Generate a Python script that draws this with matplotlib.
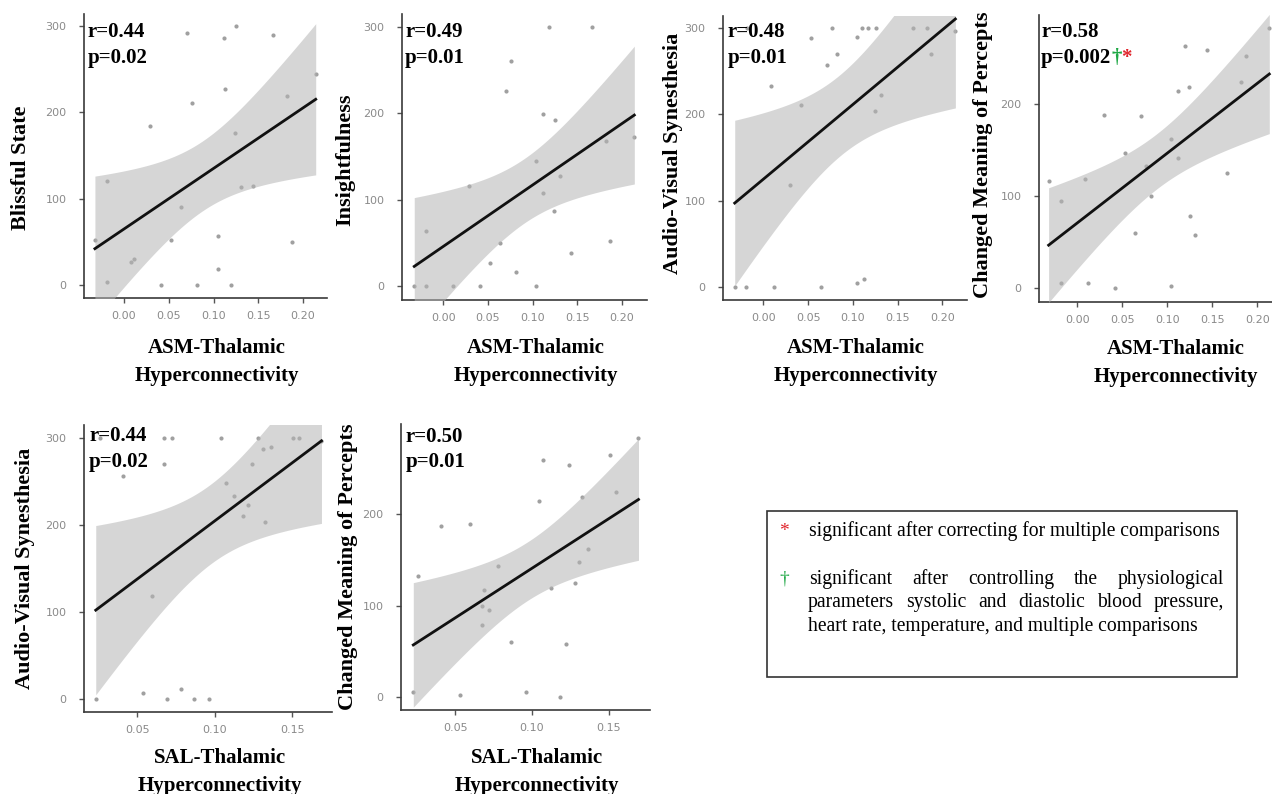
import numpy as np
import matplotlib
matplotlib.use('Agg')
import matplotlib.pyplot as plt
from matplotlib.patches import Rectangle

W, H = 1272, 794

# ---- data (x = connectivity, y = score) ----
asm_x_blissful = [-0.0325, -0.0194, -0.0187, 0.0078, 0.0116, 0.0295, 0.0414, 0.0526, 0.0638,
                  0.0701, 0.0765, 0.0817, 0.1045, 0.1045, 0.1116, 0.1123, 0.1190, 0.1239,
                  0.1254, 0.1310, 0.1436, 0.1668, 0.1820, 0.1873, 0.2142]
blissful = [52, 121, 4, 27, 30, 184, 0, 52, 90, 292, 211, 0, 57, 19, 286, 227, 0, 176,
            300, 114, 115, 289, 219, 50, 244]

asm_x_insight = [-0.0325, -0.0194, -0.0194, 0.0112, 0.0287, 0.0414, 0.0522, 0.0634, 0.0698,
                 0.0757, 0.0810, 0.1040, 0.1040, 0.1112, 0.1119, 0.1186, 0.1235, 0.1246,
                 0.1306, 0.1433, 0.1664, 0.1817, 0.1869, 0.2138]
insight = [0, 64, 0, 0, 116, 0, 27, 50, 226, 260, 17, 145, 0, 108, 199, 300, 87, 192,
           127, 39, 300, 168, 52, 172]

# one point sits under the "r=0.48" text
asm_x_avs = [-0.0321, -0.0190, -0.0187, 0.0082, 0.0119, 0.0298, 0.0418, 0.0530, 0.0642,
             0.0705, 0.0769, 0.0821, 0.1048, 0.1048, 0.1104, 0.1172, 0.1261, 0.1127,
             0.1242, 0.1313, 0.1672, 0.1824, 0.1877, 0.2145]
asm_avs = [0, 0, 300, 233, 0, 118, 211, 288, 0, 257, 300, 270, 290, 5, 300, 300, 300, 10,
           204, 223, 300, 300, 270, 297]

asm_x_cmp = [-0.0319, -0.0185, -0.0178, 0.0085, 0.0122, 0.0296, 0.0419, 0.0533, 0.0641,
             0.0704, 0.0763, 0.0815, 0.1041, 0.1044, 0.1119, 0.1122, 0.1193, 0.1237,
             0.1252, 0.1311, 0.1437, 0.1659, 0.1819, 0.1870, 0.2133]
asm_cmp = [117, 95, 6, 119, 5, 188, 0, 147, 60, 187, 133, 100, 162, 2, 215, 142, 264,
           219, 78, 58, 259, 125, 224, 253, 283]

sal_x_avs = [0.0231, 0.0259, 0.0409, 0.0534, 0.0597, 0.0675, 0.0722, 0.0675, 0.0690, 0.0780,
             0.0864, 0.0963, 0.1043, 0.1073, 0.1125, 0.1183, 0.1218, 0.1244, 0.1278,
             0.1310, 0.1328, 0.1362, 0.1509, 0.1545, 0.1690]
sal_avs = [0, 300, 257, 6, 118, 300, 300, 270, 0, 11, 0, 0, 300, 249, 233, 211, 223, 270,
           300, 288, 204, 290, 300, 300, 297]

sal_x_cmp = [0.0227, 0.0257, 0.0405, 0.0533, 0.0595, 0.0676, 0.0676, 0.0687, 0.0721, 0.0780,
             0.0864, 0.0964, 0.1044, 0.1073, 0.1123, 0.1185, 0.1220, 0.1244, 0.1279,
             0.1309, 0.1329, 0.1363, 0.1511, 0.1546, 0.1694]
sal_cmp = [5, 133, 187, 2, 189, 100, 79, 117, 95, 143, 60, 5, 215, 259, 119, 0, 58, 254,
           125, 148, 219, 162, 265, 224, 284]

y_names = ['Blissful State', 'Insightfulness', 'Audio-Visual Synesthesia',
           'Changed Meaning of Percepts', 'Audio-Visual Synesthesia',
           'Changed Meaning of Percepts']
x_names = ['ASM-Thalamic\nHyperconnectivity'] * 4 + ['SAL-Thalamic\nHyperconnectivity'] * 2
r_text = ['r=0.44', 'r=0.49', 'r=0.48', 'r=0.58', 'r=0.44', 'r=0.50']
p_text = ['p=0.02', 'p=0.01', 'p=0.01', 'p=0.002', 'p=0.02', 'p=0.01']
marks = ['', '', '', 'both', '', '']

xs = [asm_x_blissful, asm_x_insight, asm_x_avs, asm_x_cmp, sal_x_avs, sal_x_cmp]
ys = [blissful, insight, asm_avs, asm_cmp, sal_avs, sal_cmp]

legend_star = 'significant after correcting for multiple comparisons'
legend_dagger = ['significant after controlling the physiological',
                 'parameters systolic and diastolic blood pressure,',
                 'heart rate, temperature, and multiple comparisons']

# ---- layout (pixels) ----
boxes = [(84, 14, 327, 298), (402, 14, 647, 300), (723, 15.7, 967, 300),
         (1039, 15, 1272, 301.7), (84, 425, 332, 711.7), (401, 424.3, 650, 710)]
xlims = [(-0.0447, 0.2268), (-0.0462, 0.228), (-0.0452, 0.2275), (-0.0426, 0.2163),
         (0.0155, 0.1758), (0.0147, 0.1769)]
ylims = [(-14.7, 313.5), (-15.8, 314.7), (-14.7, 314.2), (-14.9, 297.4),
         (-15, 315.3), (-14.2, 298.5)]
ylab_pos = [(21, 168), (345, 160), (673, 153), (983, 155), (25, 568), (348, 567)]
xlab_pos = [(217, 362), (536, 362), (856, 362), (1176, 363), (220, 772), (537, 772)]
txt_pos = [(88, 37.3, 63.3), (405, 36.7, 63.3), (728, 37.3, 63.3), (1041, 37.3, 63.3),
           (89, 440.7, 466.7), (406, 441.7, 467.3)]


def fx(x):
    return x / W


def fy(y):
    return 1 - y / H


SERIF = 'Liberation Serif'
GREEN = '#1fa845'
RED = '#e0242b'
T95 = 2.07

fig = plt.figure(figsize=(W / 100, H / 100), dpi=100)

for i in range(6):
    l, t, r, b = boxes[i]
    ax = fig.add_axes([fx(l), fy(b), (r - l) / W, (b - t) / H])
    x = np.array(xs[i], dtype=float)
    y = np.array(ys[i], dtype=float)

    # linear fit with 95% confidence band
    slope, icpt = np.polyfit(x, y, 1)
    n = len(x)
    resid = y - (slope * x + icpt)
    s = np.sqrt(np.sum(resid ** 2) / (n - 2))
    sxx = np.sum((x - x.mean()) ** 2)
    gx = np.linspace(x.min(), x.max(), 100)
    gy = slope * gx + icpt
    se = s * np.sqrt(1 / n + (gx - x.mean()) ** 2 / sxx)

    ax.scatter(x, y, s=9, color='#a0a0a0', linewidths=0, zorder=2)
    ax.fill_between(gx, gy - T95 * se, gy + T95 * se, color='#b5b5b5', alpha=0.55,
                    linewidth=0, zorder=3)
    ax.plot(gx, gy, color='#111111', lw=2.0, zorder=4)

    ax.set_xlim(*xlims[i])
    ax.set_ylim(*ylims[i])
    if i < 4:
        ax.set_xticks([0.0, 0.05, 0.10, 0.15, 0.20])
    else:
        ax.set_xticks([0.05, 0.10, 0.15])
    ax.set_xticklabels(['%.2f' % v for v in ax.get_xticks()])
    ax.set_yticks([v for v in [0, 100, 200, 300] if v <= ylims[i][1]])
    for side in ['top', 'right']:
        ax.spines[side].set_visible(False)
    for side in ['left', 'bottom']:
        ax.spines[side].set_color('#3a3a3a')
        ax.spines[side].set_linewidth(1.2)
    ax.tick_params(axis='both', colors='#555555', labelcolor='#8a8a8a', labelsize=8,
                   length=3.6, width=1)
    ax.tick_params(axis='x', pad=6)
    ax.tick_params(axis='y', pad=9)

    ax.set_ylabel(y_names[i], fontfamily=SERIF, fontweight='bold', fontsize=16,
                  va='center')
    ax.yaxis.set_label_coords(fx(ylab_pos[i][0]), fy(ylab_pos[i][1]),
                              transform=fig.transFigure)
    ax.set_xlabel(x_names[i], fontfamily=SERIF, fontweight='bold', fontsize=15,
                  va='center', linespacing=1.55)
    ax.xaxis.set_label_coords(fx(xlab_pos[i][0]), fy(xlab_pos[i][1]),
                              transform=fig.transFigure)

    tx, ry, py = txt_pos[i]
    fig.text(fx(tx), fy(ry), r_text[i], fontfamily=SERIF, fontweight='bold',
             fontsize=15, va='baseline', ha='left')
    pt = fig.text(fx(tx), fy(py), p_text[i], fontfamily=SERIF, fontweight='bold',
                  fontsize=15, va='baseline', ha='left')
    if marks[i] == 'both':
        fig.canvas.draw()
        bb = pt.get_window_extent()
        dg = fig.text(bb.x1 / W, fy(py), '\u2020', fontfamily=SERIF, fontweight='bold',
                      fontsize=15, color=GREEN, va='baseline', ha='left')
        fig.canvas.draw()
        bb2 = dg.get_window_extent()
        fig.text(bb2.x1 / W, fy(py), '*', fontfamily=SERIF, fontweight='bold',
                 fontsize=15, color=RED, va='baseline', ha='left')

# ---- legend box ----
fig.patches.append(Rectangle((fx(767), fy(677)), 470 / W, 166 / H, transform=fig.transFigure,
                             fill=False, edgecolor='#333333', linewidth=1.2))
fig.text(fx(784), fy(536), '*', fontfamily=SERIF, fontsize=14, color=RED,
         ha='center', va='baseline')
fig.text(fx(809), fy(536), legend_star, fontfamily=SERIF, fontsize=14.1, va='baseline')
fig.text(fx(784), fy(584), '\u2020', fontfamily=SERIF, fontsize=14, color=GREEN,
         ha='center', va='baseline')

renderer = fig.canvas.get_renderer()


def justified(line, x0, x1, yb):
    words = line.split()
    widths = []
    for w in words:
        tmp = fig.text(0, 0, w, fontfamily=SERIF, fontsize=14.1)
        widths.append(tmp.get_window_extent(renderer).width)
        tmp.remove()
    gap = (x1 - x0 - sum(widths)) / (len(words) - 1)
    cx = x0
    for w, wd in zip(words, widths):
        fig.text(fx(cx), fy(yb), w, fontfamily=SERIF, fontsize=14.1, va='baseline')
        cx += wd + gap


justified(legend_dagger[0], 809, 1224, 584)
justified(legend_dagger[1], 808, 1224, 607)
fig.text(fx(808), fy(631), legend_dagger[2], fontfamily=SERIF, fontsize=14.1, va='baseline')

fig.savefig('out.png', dpi=100)
